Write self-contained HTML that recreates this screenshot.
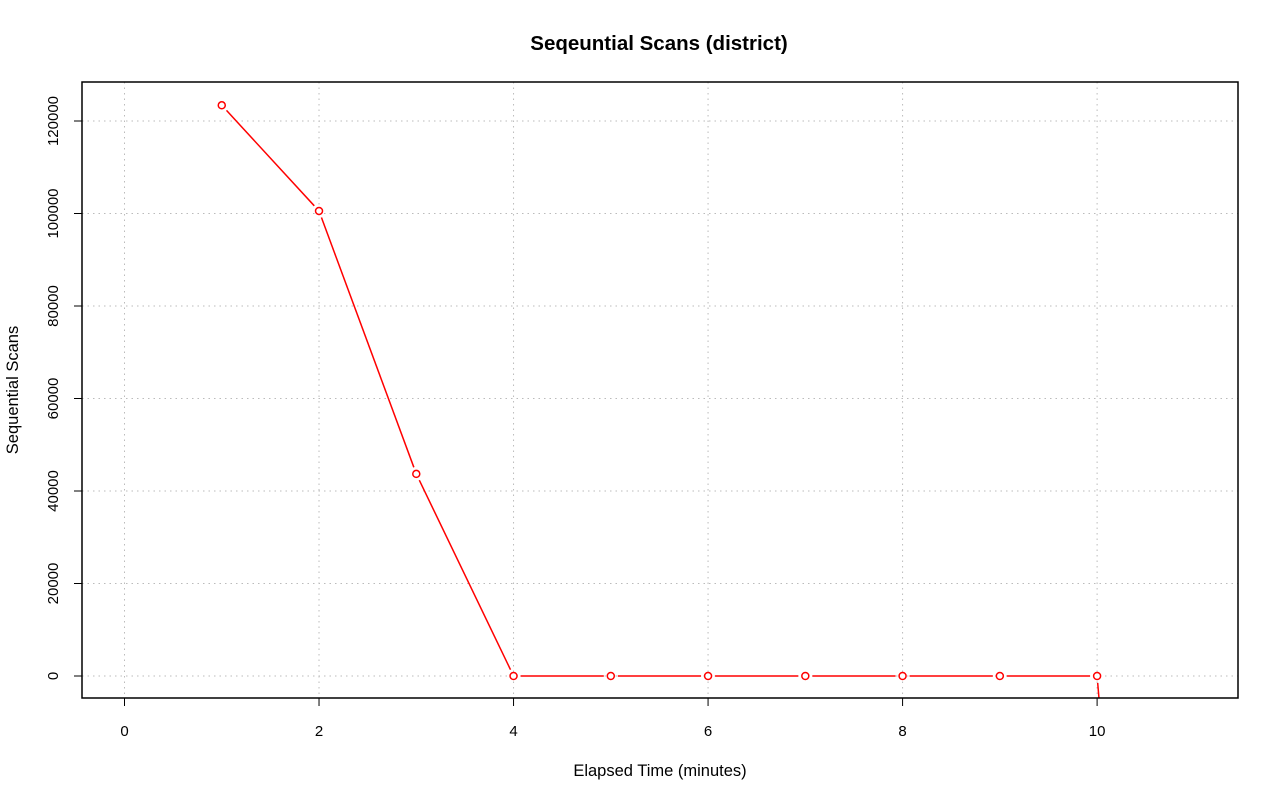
<!DOCTYPE html>
<html><head><meta charset="utf-8"><style>
html,body{margin:0;padding:0;background:#fff;overflow:hidden}
svg{display:block;font-family:"Liberation Sans",sans-serif}
</style></head><body>
<svg id="chart" width="1280" height="801" viewBox="0 0 1280 801">
<text x="659" y="50" text-anchor="middle" font-size="20.5" font-weight="bold">Seqeuntial Scans (district)</text>
<text x="660" y="776" text-anchor="middle" font-size="16.5">Elapsed Time (minutes)</text>
<text transform="translate(18,390) rotate(-90)" text-anchor="middle" font-size="16.5">Sequential Scans</text>
<defs><clipPath id="pc"><rect x="82" y="82" width="1156" height="616"/></clipPath></defs>
<g id="grid"></g>
<g id="series" clip-path="url(#pc)"></g>
<g id="axes"></g>
<rect x="82" y="82" width="1156" height="616" fill="none" stroke="#000" stroke-width="1.5"/>
</svg>
<script>
const xValues = [1,2,3,4,5,6,7,8,9,10,11];
const yValues = [123400,100550,43700,0,0,0,0,0,0,0,-250000];
const xTicks = [0,2,4,6,8,10];
const yTicks = [0,20000,40000,60000,80000,100000,120000];
const NS="http://www.w3.org/2000/svg";
function X(v){return 124.5+v*97.26;}
function Y(v){return 676-v*0.004625;}
function mk(t,a,p){const e=document.createElementNS(NS,t);for(const k in a)e.setAttribute(k,a[k]);p.appendChild(e);return e;}
const grid=document.getElementById('grid'),axes=document.getElementById('axes'),ser=document.getElementById('series');
xTicks.forEach(v=>{
  const g=mk('line',{x1:X(v),x2:X(v),y1:82,y2:698,stroke:'#bbb','stroke-dasharray':'1.5,4'},grid);
  
  
  const t=mk('line',{x1:X(v),x2:X(v),y1:698,y2:706,stroke:'#000'},axes);
  
  
  const l=mk('text',{x:X(v),y:736,'text-anchor':'middle','font-size':15},axes);l.textContent=v;
  
  
});
yTicks.forEach(v=>{
  const g=mk('line',{x1:82,x2:1238,y1:Y(v),y2:Y(v),stroke:'#bbb','stroke-dasharray':'1.5,4'},grid);
  
  
  const t=mk('line',{x1:74,x2:82,y1:Y(v),y2:Y(v),stroke:'#000'},axes);
  
  
  const l=mk('text',{transform:`translate(58,${Y(v)}) rotate(-90)`,'text-anchor':'middle','font-size':15},axes);l.textContent=v;
  
  
});
for(let i=0;i<xValues.length-1;i++){
  const x1=X(xValues[i]),y1=Y(yValues[i]),x2=X(xValues[i+1]),y2=Y(yValues[i+1]);
  const d=Math.hypot(x2-x1,y2-y1),g=7;
  if(d<=2*g)continue;
  const ux=(x2-x1)/d,uy=(y2-y1)/d;
  const s=mk('line',{x1:x1+ux*g,y1:y1+uy*g,x2:x2-ux*g,y2:y2-uy*g,stroke:'#f00','stroke-width':1.5},ser);
  
  
}
xValues.forEach((v,i)=>{
  const c=mk('circle',{cx:X(v),cy:Y(yValues[i]),r:3.5,fill:'#fff',stroke:'#f00','stroke-width':1.5},ser);
  
  
});
</script>
</body></html>
